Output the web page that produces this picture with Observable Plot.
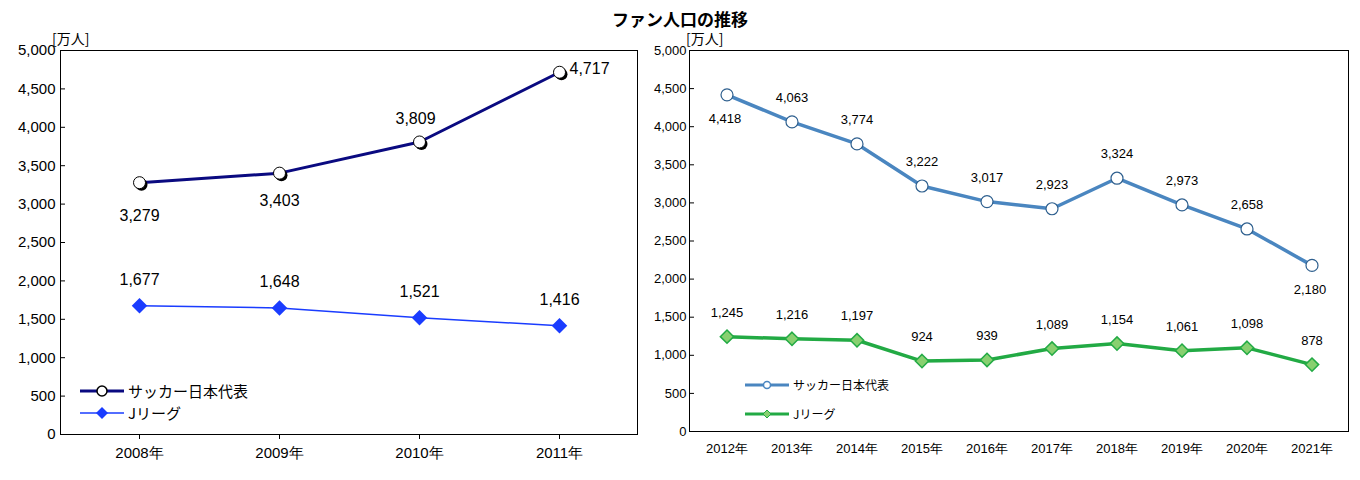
<!DOCTYPE html>
<html><head><meta charset="utf-8">
<script src="https://cdn.jsdelivr.net/npm/d3@7"></script>
<script src="https://cdn.jsdelivr.net/npm/@observablehq/plot@0.6"></script>
<style>
body{margin:0;background:#fff;font-family:"Liberation Sans","Noto Sans CJK JP",sans-serif;}
#wrap{position:relative;width:1360px;height:480px;}
.abs{position:absolute;}
.title{left:0;width:1360px;top:6px;text-align:center;font-size:17px;font-weight:bold;font-family:"Noto Sans CJK JP",sans-serif;}
.unit{font-size:14px;font-family:"Noto Sans CJK JP",sans-serif;}
.leg{font-family:"Noto Sans CJK JP",sans-serif;display:flex;align-items:center;gap:4px;white-space:nowrap}
</style></head><body>
<div id="wrap">
<div class="abs title">ファン人口の推移</div>
<div id="c1" class="abs" style="left:0;top:0"></div>
<div id="c2" class="abs" style="left:0;top:0"></div>
<div class="abs unit" style="left:52px;top:28px">[万人]</div>
<div class="abs unit" style="left:686px;top:28px">[万人]</div>
<div class="abs leg" style="left:80px;top:380px;font-size:15px"><svg width="44" height="14"><line x1="0" x2="44" y1="7" y2="7" stroke="#0a0a80" stroke-width="3"/><circle cx="22" cy="7" r="5" fill="#fff" stroke="#000" stroke-width="1.5"/></svg>サッカー日本代表</div>
<div class="abs leg" style="left:80px;top:402px;font-size:15px"><svg width="44" height="14"><line x1="0" x2="44" y1="7" y2="7" stroke="#1a3cff" stroke-width="1.5"/><path d="M22 1L28 7L22 13L16 7Z" fill="#1a3cff"/></svg>Jリーグ</div>
<div class="abs leg" style="left:745px;top:376px;font-size:12px"><svg width="44" height="12"><line x1="0" x2="44" y1="6" y2="6" stroke="#4a86c0" stroke-width="3"/><circle cx="22" cy="6" r="3.5" fill="#fff" stroke="#4a86c0" stroke-width="1.5"/></svg>サッカー日本代表</div>
<div class="abs leg" style="left:745px;top:405px;font-size:12px"><svg width="44" height="12"><line x1="0" x2="44" y1="6" y2="6" stroke="#22aa44" stroke-width="3"/><path d="M22 2L26 6L22 10L18 6Z" fill="#88d070" stroke="#22aa44"/></svg>Jリーグ</div>
</div>
<script>
const years1 = ["2008年","2009年","2010年","2011年"];
const soccer1 = [3279,3403,3809,4717];
const jleague1 = [1677,1648,1521,1416];
const years2 = ["2012年","2013年","2014年","2015年","2016年","2017年","2018年","2019年","2020年","2021年"];
const soccer2 = [4418,4063,3774,3222,3017,2923,3324,2973,2658,2180];
const jleague2 = [1245,1216,1197,924,939,1089,1154,1061,1098,878];
const yTicks = d3.range(0,5001,500);

const fmt = d3.format(",");
const d1s = years1.map((y,i)=>({y, v:soccer1[i], i}));
const d1j = years1.map((y,i)=>({y, v:jleague1[i]}));
const p1 = Plot.plot({
  width:640, height:480, marginLeft:60, marginRight:3, marginTop:50, marginBottom:46,
  style:{fontFamily:"'Liberation Sans Narrow','Liberation Sans',sans-serif",fontSize:"15px",color:"#000"},
  x:{type:"band", domain:years1, label:null, tickSize:5, tickPadding:8},
  y:{domain:[0,5000], ticks:yTicks, tickFormat:d=>fmt(d), label:null, tickSize:-5, tickPadding:10},
  marks:[
    Plot.frame({stroke:"#000"}),
    Plot.line(d1s,{x:"y",y:"v",stroke:"#0a0a80",strokeWidth:3}),
    Plot.line(d1j,{x:"y",y:"v",stroke:"#1a3cff",strokeWidth:1.5}),
    Plot.dot(d1s,{x:"y",y:"v",r:6,fill:"#000",dx:2,dy:2}),
    Plot.dot(d1s,{x:"y",y:"v",r:6,fill:"#fff",stroke:"#000",strokeWidth:1}),
    Plot.dot(d1j,{x:"y",y:"v",symbol:"diamond2",r:7,fill:"#1a3cff"}),
    Plot.text(d1s.filter(d=>d.i==0),{x:"y",y:"v",text:d=>fmt(d.v),dy:33,fontSize:16}),
    Plot.text(d1s.filter(d=>d.i==1),{x:"y",y:"v",text:d=>fmt(d.v),dy:28,fontSize:16}),
    Plot.text(d1s.filter(d=>d.i==2),{x:"y",y:"v",text:d=>fmt(d.v),dy:-23,dx:-4,fontSize:16}),
    Plot.text(d1s.filter(d=>d.i==3),{x:"y",y:"v",text:d=>fmt(d.v),dx:30,dy:-3,fontSize:16}),
    Plot.text(d1j,{x:"y",y:"v",text:d=>fmt(d.v),dy:-26,fontSize:16})
  ]
});
document.getElementById("c1").appendChild(p1);

const d2s = years2.map((y,i)=>({y, v:soccer2[i], i}));
const d2j = years2.map((y,i)=>({y, v:jleague2[i]}));
const below = d=>d.i==0||d.i==9;
const p2 = Plot.plot({
  width:1360, height:480, marginLeft:689, marginRight:12, marginTop:50, marginBottom:49,
  style:{fontFamily:"'Liberation Sans',sans-serif",fontSize:"13px",color:"#000"},
  x:{type:"band", domain:years2, label:null, tickSize:0, tickPadding:12, tickFormat:d=>d},
  y:{domain:[0,5000], ticks:yTicks, tickFormat:d=>fmt(d), label:null, tickSize:-5, tickPadding:8},
  marks:[
    Plot.frame({stroke:"#000"}),
    Plot.line(d2s,{x:"y",y:"v",stroke:"#4a86c0",strokeWidth:3.5}),
    Plot.line(d2j,{x:"y",y:"v",stroke:"#22aa44",strokeWidth:3.5}),
    Plot.dot(d2s,{x:"y",y:"v",r:6,fill:"#fff",stroke:"#2e5f8e",strokeWidth:1.2}),
    Plot.dot(d2j,{x:"y",y:"v",symbol:"diamond2",r:6,fill:"#88d070",stroke:"#22aa44"}),
    Plot.text(d2s.filter(below),{x:"y",y:"v",text:d=>fmt(d.v),dy:24,dx:-2,fontSize:13}),
    Plot.text(d2s.filter(d=>!below(d)),{x:"y",y:"v",text:d=>fmt(d.v),dy:-24,fontSize:13}),
    Plot.text(d2j,{x:"y",y:"v",text:d=>fmt(d.v),dy:-24,fontSize:13})
  ]
});
document.getElementById("c2").appendChild(p2);
</script>
</body></html>
